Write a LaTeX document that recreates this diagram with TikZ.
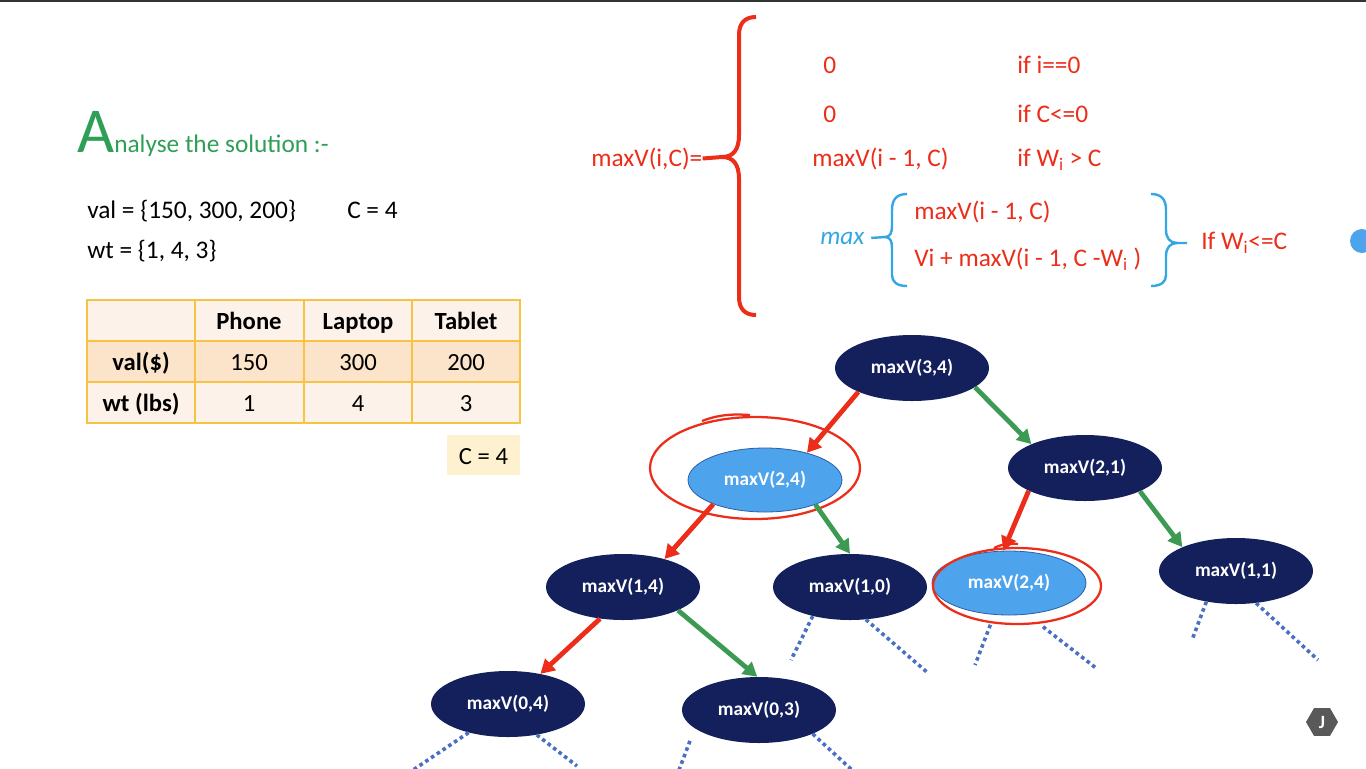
\documentclass[tikz,border=0pt]{standalone}
\usepackage{fontspec}
\setmainfont{Carlito}
\usetikzlibrary{arrows.meta,shapes.geometric}

\definecolor{rojo}{HTML}{EC2D19}
\definecolor{verde}{HTML}{2F9F58}
\definecolor{verdeflecha}{HTML}{3C9A52}
\definecolor{marino}{HTML}{13205B}
\definecolor{celeste}{HTML}{4DA3EC}
\definecolor{celesteborde}{HTML}{2B5FA8}
\definecolor{azulllave}{HTML}{34A6E4}
\definecolor{punto}{HTML}{4A70C6}
\definecolor{borde}{HTML}{F6C345}
\definecolor{claro}{HTML}{FDF2E9}
\definecolor{durazno}{HTML}{FBE4CA}
\definecolor{crema}{HTML}{FDF1CF}

\newcommand\letra{\fontsize{19}{22}\selectfont}

\tikzset{
  texto/.style={inner sep=0, anchor=base west, font=\letra},
  celda/.style={inner sep=0, anchor=base, font=\fontsize{18.5}{20}\selectfont},
  nodo/.style={ellipse, fill=marino, inner sep=0, minimum width=115.5pt,
    minimum height=49.5pt, text=white, font=\bfseries\fontsize{14.5}{16}\selectfont},
  nodosel/.style={nodo, fill=celeste, draw=celesteborde, line width=0.6pt,
    minimum height=48pt},
  flecha/.style={-{Triangle[length=10.5pt,width=11.5pt]}, line width=3.6pt},
  punteado/.style={punto, line width=2.7pt, dash pattern=on 2.7pt off 2.5pt},
  marca/.style={draw=rojo, line width=1.7pt},
  llave/.style={line width=1.8pt, azulllave},
}

\begin{document}
\begin{tikzpicture}[x=0.75pt,y=-0.75pt]
    % Marco de la pagina
    \useasboundingbox (0,0) rectangle (1366,768);
    \fill[white] (0,0) rectangle (1366,768);
    \fill[black!80] (0,0) rectangle (1366,2);

    % Titulo
    \node[texto, text=verde] (titulo) at (77,152) {{\fontsize{48}{48}\selectfont A}nalyse the solution :-};

    % Datos del problema
    \node[texto] (val) at (87,218) {val = \{150, 300, 200\}};
    \node[texto] (cap) at (347,218) {C = 4};
    \node[texto] (wt) at (87,258) {wt = \{1, 4, 3\}};

    % Dibuja la tabla
    \fill[claro] (87,300) rectangle (520,423);
    \fill[durazno] (87,341) rectangle (520,382);
    \foreach \x in {195,304,412}
        \draw[borde, line width=1.5pt] (\x,300) -- (\x,423);
    \foreach \y in {341,382}
        \draw[borde, line width=1.5pt] (87,\y) -- (520,\y);
    \draw[borde, line width=1.5pt] (87,300) rectangle (520,423);
    \foreach \x/\t in {249/Phone,358/Laptop,466/Tablet}
        \node[celda, font=\bfseries\fontsize{18.5}{20}\selectfont] (h-\t) at (\x,329) {\t};
    \node[celda, font=\bfseries\fontsize{18.5}{20}\selectfont] (f-val) at (141,370) {val(\$)};
    \node[celda, font=\bfseries\fontsize{18.5}{20}\selectfont] (f-wt) at (141,411) {wt (lbs)};
    \foreach \x/\v/\w [count=\i] in {249/150/1,358/300/4,466/200/3} {
        \node[celda] (v-\i) at (\x,370) {\v};
        \node[celda] (w-\i) at (\x,411) {\w};
    }

    % Capacidad
    \fill[crema] (447,435) rectangle (520,475);
    \node[celda] (c4) at (483.5,464) {C = 4};

    % Formula recursiva
    \node[texto, text=rojo] (f) at (591,166) {maxV(i,C)=};
    \coordinate (punta) at (722,157);
    \draw[rojo, line width=3pt] (f.east) -- (punta);
    \draw[rojo, line width=3pt] (756,17) .. controls (745,17) and (739,23) .. (739,35)
        -- (739,135) .. controls (739,150) and (733,157) .. (punta)
        .. controls (733,157) and (739,164) .. (739,179)
        -- (739,297) .. controls (739,309) and (745,315) .. (756,315);
    \node[texto, text=rojo] (c1) at (823,73) {0};
    \node[texto, text=rojo] (k1) at (1017,73) {if i==0};
    \node[texto, text=rojo] (c2) at (823,122) {0};
    \node[texto, text=rojo] (k2) at (1017,122) {if C<=0};
    \node[texto, text=rojo] (c3) at (812,166) {maxV(i - 1, C)};
    \node[texto, text=rojo] (k3) at (1017,166) {if W\textsubscript{i} > C};

    % Caso del maximo
    \node[texto, text=azulllave, font=\itshape\letra] (mx) at (820,244) {max};
    \node[texto, text=rojo] (m1) at (914,219) {maxV(i - 1, C)};
    \node[texto, text=rojo] (m2) at (914,266) {Vi + maxV(i - 1, C -W\textsubscript{i} )};
    \node[texto, text=rojo] (k4) at (1201,249) {If W\textsubscript{i}<=C};
    \coordinate (pizq) at (885,237);
    \draw[llave] ([xshift=5pt]mx.east) -- (pizq);
    \draw[llave] (907,194) .. controls (897,194) and (892,199) .. (892,210)
        -- (892,226) .. controls (892,233) and (890,237) .. (pizq)
        .. controls (890,237) and (892,241) .. (892,248)
        -- (892,275) .. controls (892,282) and (897,286) .. (907,286);
    \coordinate (pder) at (1187,243);
    \coordinate (pmed) at (1177,243);
    \draw[llave] (1151,194) .. controls (1161,194) and (1166,199) .. (1166,210)
        -- (1166,230) .. controls (1166,238) and (1170,243) .. (pmed) -- (pder);
    \draw[llave] (pmed) .. controls (1170,243) and (1166,248) .. (1166,256)
        -- (1166,275) .. controls (1166,282) and (1161,286) .. (1151,286);

    % Nodos del arbol
    \node[nodo] (n34) at (912,368) {maxV(3,4)};
    \node[nodosel] (n24) at (765,480) {maxV(2,4)};
    \node[nodo] (n21) at (1085,468) {maxV(2,1)};
    \node[nodo] (n14) at (623,587) {maxV(1,4)};
    \node[nodo] (n10) at (850,587) {maxV(1,0)};
    \node[nodosel] (n24b) at (1009,583) {maxV(2,4)};
    \node[nodo] (n11) at (1236,571) {maxV(1,1)};
    \node[nodo] (n04) at (508,704) {maxV(0,4)};
    \node[nodo] (n03) at (759,710) {maxV(0,3)};

    % Marcas a mano alzada
    \draw[marca] (755,468) ellipse [x radius=105, y radius=51];
    \draw[marca] (702,421) .. controls (720,414) and (735,414) .. (750,415);
    \draw[marca] (1017,586) ellipse [x radius=84, y radius=38];
    \draw[marca] (994,548) .. controls (1002,544) and (1010,543) .. (1018,544);

    % Flechas del arbol
    \draw[flecha, rojo] (n34.204) -- (n24.33);
    \draw[flecha, verdeflecha] (n34.343) -- (n21.156);
    \draw[flecha, rojo] (n24.205) -- (n14.34);
    \draw[flecha, verdeflecha] (n24.334) -- (n10.90);
    \draw[flecha, rojo] (n21.202) -- (n24b.100);
    \draw[flecha, verdeflecha] (n21.337) -- (n11.156);
    \draw[flecha, rojo] (n14.234) -- (n04.43);
    \draw[flecha, verdeflecha] (n14.337) -- (n03.93);

    % Ramas punteadas
    \coordinate (e1) at (791,660);
    \coordinate (e2) at (928,673);
    \coordinate (e3) at (975,665);
    \coordinate (e4) at (1096,668);
    \coordinate (e5) at (1192,640);
    \coordinate (e6) at (1318,660);
    \coordinate (e7) at (413,770);
    \coordinate (e8) at (577,766);
    \coordinate (e9) at (679,770);
    \coordinate (e10) at (852,770);
    \draw[punteado] (n10.218) -- (e1);
    \draw[punteado] (n10.296) -- (e2);
    \draw[punteado, shorten <=8pt] (n24b.245) -- (e3);
    \draw[punteado, shorten <=15pt] (n24b.300) -- (e4);
    \draw[punteado] (n11.226) -- (e5);
    \draw[punteado] (n11.302) -- (e6);
    \draw[punteado] (n04.216) -- (e7);
    \draw[punteado] (n04.313) -- (e8);
    \draw[punteado, shorten <=10pt] (n03.196) -- (e9);
    \draw[punteado] (n03.336) -- (e10);

    % Iconos del borde
    \fill[celeste] (1362,241) circle (12);
    \node[regular polygon, regular polygon sides=6, fill=black!65, minimum size=24pt,
        inner sep=0, text=white, font=\bfseries\fontsize{14}{14}\selectfont] (J) at (1322,722) {J};
\end{tikzpicture}
\end{document}
